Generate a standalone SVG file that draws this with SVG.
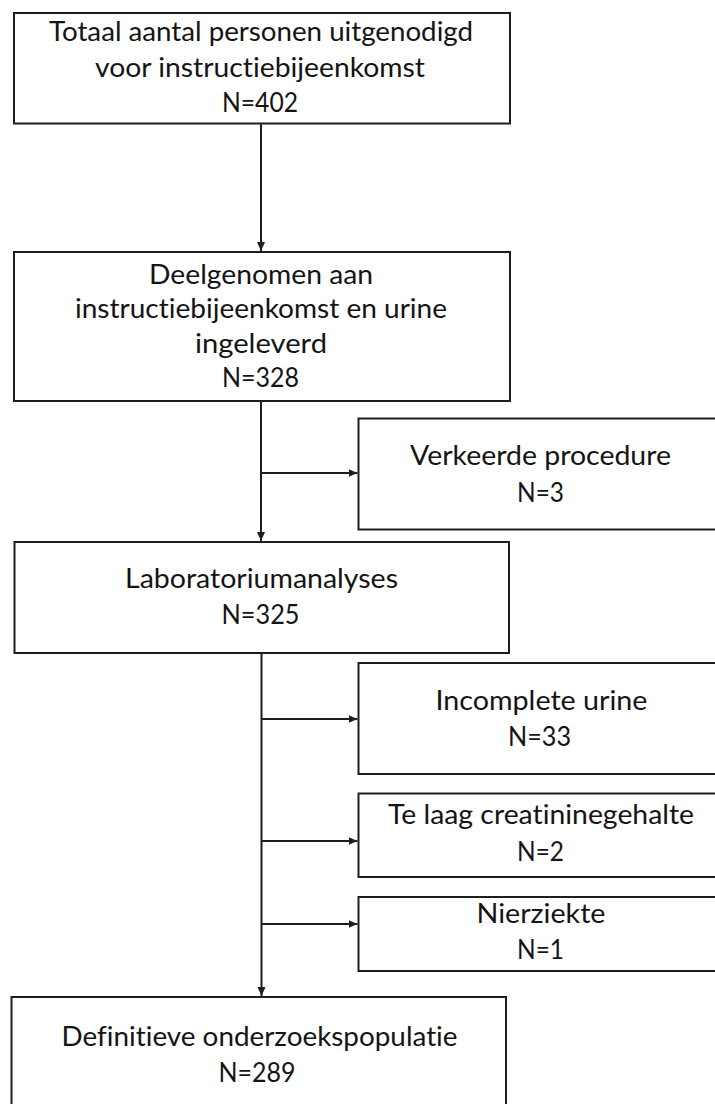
<svg xmlns="http://www.w3.org/2000/svg" width="715" height="1104" viewBox="0 0 715 1104">
<style>
.box{fill:#ffffff;stroke:#1e1e1e;stroke-width:2}
.t{font-family:Lato,"Liberation Sans",sans-serif;font-size:26px;fill:#141414;text-anchor:middle;font-variant-ligatures:none}
.c{fill:none;stroke:#1e1e1e;stroke-width:2}
</style>
<defs>
<marker id="ah" markerUnits="userSpaceOnUse" markerWidth="10" markerHeight="10" viewBox="0 0 10 10" refX="9" refY="5" orient="auto">
<path d="M0,1 L9,5 L0,9 Z" fill="#1e1e1e"/>
</marker>
</defs>
<rect width="715" height="1104" fill="#ffffff"/>
<g id="connectors">
<line class="c" x1="261" y1="124" x2="261" y2="251" marker-end="url(#ah)"/>
<line class="c" x1="261" y1="401" x2="261" y2="541" marker-end="url(#ah)"/>
<line class="c" x1="261" y1="473" x2="357.5" y2="473" marker-end="url(#ah)"/>
<line class="c" x1="261.5" y1="653" x2="261.5" y2="996" marker-end="url(#ah)"/>
<line class="c" x1="261.5" y1="719" x2="357.5" y2="719" marker-end="url(#ah)"/>
<line class="c" x1="261.5" y1="841" x2="357.5" y2="841" marker-end="url(#ah)"/>
<line class="c" x1="261.5" y1="924" x2="357.5" y2="924" marker-end="url(#ah)"/>
</g>
<g id="node-totaal">
<rect class="box" x="14" y="13" width="496" height="110.5"/>
<text class="t" x="261" y="41" textLength="424" lengthAdjust="spacingAndGlyphs">Totaal aantal personen uitgenodigd</text>
<text class="t" x="260" y="76.5" textLength="330" lengthAdjust="spacingAndGlyphs">voor instructiebijeenkomst</text>
<text class="t" x="260" y="112" textLength="76" lengthAdjust="spacingAndGlyphs">N=402</text>
</g>
<g id="node-deelgenomen">
<rect class="box" x="14" y="252" width="496" height="149"/>
<text class="t" x="261" y="283.5" textLength="224" lengthAdjust="spacingAndGlyphs">Deelgenomen aan</text>
<text class="t" x="261" y="318" textLength="372" lengthAdjust="spacingAndGlyphs">instructiebijeenkomst en urine</text>
<text class="t" x="261" y="352.5" textLength="132" lengthAdjust="spacingAndGlyphs">ingeleverd</text>
<text class="t" x="260.5" y="387" textLength="77" lengthAdjust="spacingAndGlyphs">N=328</text>
</g>
<g id="node-verkeerde">
<rect class="box" x="358.5" y="418.5" width="366" height="111"/>
<text class="t" x="540.5" y="465" textLength="261" lengthAdjust="spacingAndGlyphs">Verkeerde procedure</text>
<text class="t" x="540.5" y="501.5" textLength="47" lengthAdjust="spacingAndGlyphs">N=3</text>
</g>
<g id="node-laboratorium">
<rect class="box" x="14.5" y="542" width="494.5" height="111"/>
<text class="t" x="261.5" y="588" textLength="273" lengthAdjust="spacingAndGlyphs">Laboratoriumanalyses</text>
<text class="t" x="260.5" y="624" textLength="78" lengthAdjust="spacingAndGlyphs">N=325</text>
</g>
<g id="node-incomplete">
<rect class="box" x="358.5" y="663" width="366" height="111"/>
<text class="t" x="541.5" y="709.5" textLength="212" lengthAdjust="spacingAndGlyphs">Incomplete urine</text>
<text class="t" x="539.5" y="745.5" textLength="63" lengthAdjust="spacingAndGlyphs">N=33</text>
</g>
<g id="node-telaag">
<rect class="box" x="358.5" y="793.5" width="366" height="83.5"/>
<text class="t" x="541" y="824" textLength="306" lengthAdjust="spacingAndGlyphs">Te laag creatininegehalte</text>
<text class="t" x="540.5" y="861" textLength="47" lengthAdjust="spacingAndGlyphs">N=2</text>
</g>
<g id="node-nierziekte">
<rect class="box" x="358.5" y="897" width="366" height="74"/>
<text class="t" x="541" y="922.5" textLength="129" lengthAdjust="spacingAndGlyphs">Nierziekte</text>
<text class="t" x="540.5" y="959" textLength="47" lengthAdjust="spacingAndGlyphs">N=1</text>
</g>
<g id="node-definitieve">
<rect class="box" x="11.5" y="997" width="494.5" height="115"/>
<text class="t" x="259.5" y="1045.5" textLength="396" lengthAdjust="spacingAndGlyphs">Definitieve onderzoekspopulatie</text>
<text class="t" x="257" y="1082" textLength="77" lengthAdjust="spacingAndGlyphs">N=289</text>
</g>
</svg>
